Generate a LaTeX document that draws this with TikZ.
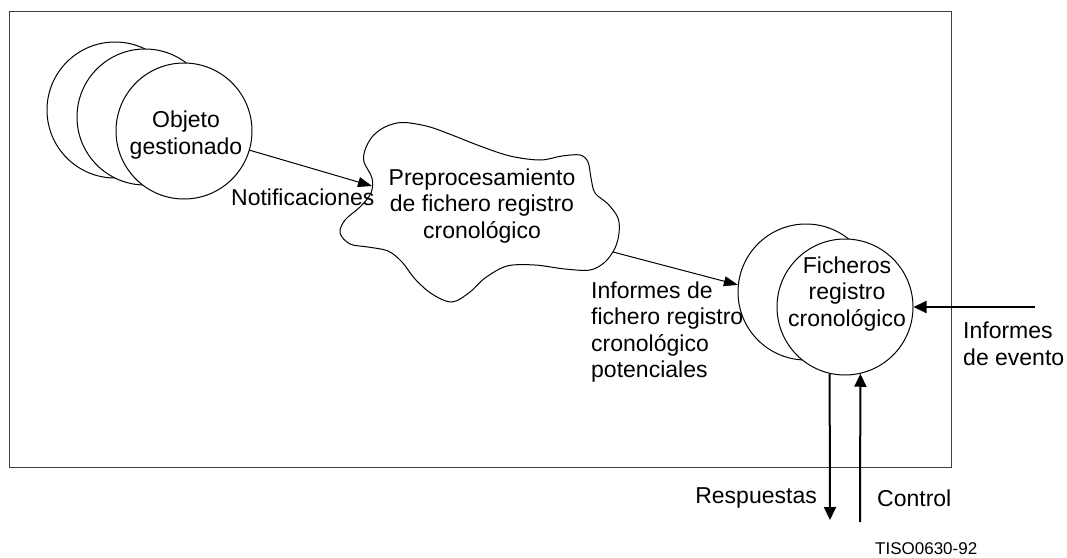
\documentclass[tikz,border=0pt]{standalone}
\usepackage{fontspec}
\setmainfont{Liberation Sans}
\usetikzlibrary{arrows.meta,calc}
\begin{document}
\begin{tikzpicture}[x=1pt,y=-1pt,
  every node/.style={font=\fontsize{23}{26.5}\selectfont, inner sep=0pt},
  obj/.style={circle, draw, fill=white, line width=1pt, minimum size=136pt},
  lbl/.style={align=center},
  thinarrow/.style={line width=1pt, -{Triangle[length=14pt,width=10pt]}},
  thickarrow/.style={line width=2pt, -{Triangle[length=13pt,width=12pt]}}
]
\fill[white] (0,0) rectangle (1067,557);
\useasboundingbox (0,0) rectangle (1067,557);
% frame
\draw[line width=1pt, black!75] (9,11) rectangle (951,467);
% managed object circles
\node[obj] (c1) at (115,110) {};
\node[obj] (c2) at (145,117) {};
\node[obj] (c3) at (184,131) {};
\node[lbl] (t1) at (186,135) {Objeto\\gestionado};
% cloud
\draw[line width=1pt] plot[smooth cycle, tension=0.55] coordinates {
 (365,150) (372,137) (383,128) (397,123) (410,123) (430,127) (452,135)
 (480,146) (510,156) (540,160) (562,156) (580,155) (588,162) (591,178)
 (595,193) (608,204) (618,218) (619,233) (615,248) (605,262) (590,270)
 (565,269) (535,265) (507,266) (485,278) (470,292) (452,302) (432,294)
 (415,279) (402,262) (388,251) (368,247) (350,244) (340,233) (345,220)
 (360,207) (371,193) (372,178) (364,162)};
\node[lbl] (cloud) at (482,206) {Preprocesamiento\\de fichero registro\\cronológico};
\coordinate (cloudin) at (372,186);
\coordinate (cloudout) at (613,252);
% log circles
\node[obj] (r1) at (806,292) {};
\node[obj] (r2) at (845,307) {};
\node[lbl] (t2) at (847,294) {Ficheros\\registro\\cronológico};
% labels
\node[anchor=west] (notif) at (231,197) {Notificaciones};
\node[anchor=west, align=left] (inf) at (591,332) {Informes de\\fichero registro\\cronológico\\potenciales};
\node[anchor=west, align=left] (ev) at (963,344) {Informes\\de evento};
\node[anchor=east] (resp) at (817,498) {Respuestas};
\node[anchor=west] (ctrl) at (877,498) {Control};
\node[anchor=west, font=\fontsize{17}{20}\selectfont] (tiso) at (875,549) {TISO0630-92};
% connectors
\coordinate (evin) at (1035,307);
\coordinate (respout) at (830,520);
\coordinate (ctrlin) at (860,522);
\draw[thinarrow] (c3) -- (cloudin);
\draw[thinarrow] (cloudout) -- (r1.174);
\draw[thickarrow] (evin) -- (r2);
\draw[thickarrow] (r2.257) -- (respout);
\draw[thickarrow] (ctrlin) -- (r2.283);
\end{tikzpicture}
\end{document}
